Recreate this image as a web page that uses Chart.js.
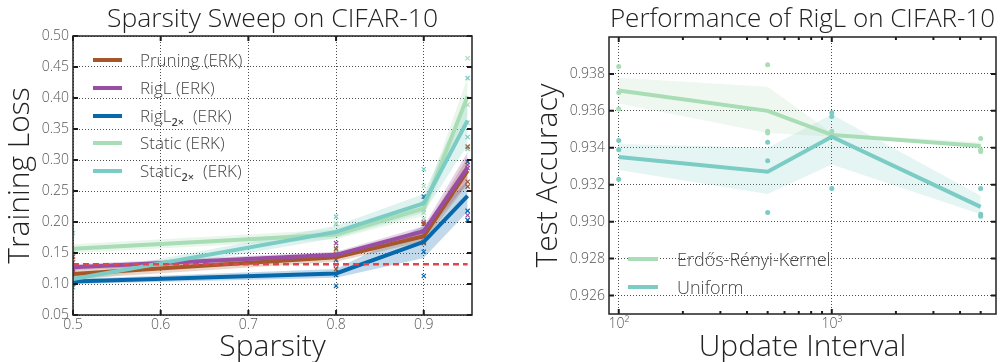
<!DOCTYPE html>
<html>
<head>
<meta charset="utf-8">
<script src="https://cdn.jsdelivr.net/npm/chart.js@4.4.1/dist/chart.umd.min.js"></script>
<style>
  body { margin: 0; background: #fff; width: 1000px; height: 362px; overflow: hidden; position: relative;
         font-family: "Open Sans", "DejaVu Sans", sans-serif; font-weight: 300; }
  .box { position: absolute; top: 0; width: 500px; height: 362px; }
  .lg { position: absolute; height: 28px; line-height: 28px; color: #444; white-space: nowrap; z-index: 2; }
  .lg i { position: absolute; left: 0; top: 12px; height: 4px; }
  .lg sub { font-size: 11px; font-weight: 600; vertical-align: -4px; line-height: 0; }
</style>
</head>
<body>
<div class="box" style="left:0"><canvas id="lossChart"></canvas></div>
<div class="box" style="left:500px"><canvas id="accChart"></canvas></div>

<!-- legenda a sinistra -->
<div class="lg" style="left:93px;top:46px;font-size:17px"><i style="width:29px;background:#a65628"></i><span style="margin-left:47px">Pruning (ERK)</span></div>
<div class="lg" style="left:93px;top:74px;font-size:17px"><i style="width:29px;background:#984ea3"></i><span style="margin-left:47px">RigL (ERK)</span></div>
<div class="lg" style="left:93px;top:102px;font-size:17px"><i style="width:29px;background:#0868ac"></i><span style="margin-left:47px">RigL<sub>2×</sub>&nbsp; (ERK)</span></div>
<div class="lg" style="left:93px;top:129px;font-size:17px"><i style="width:29px;background:#a8ddb5"></i><span style="margin-left:47px">Static (ERK)</span></div>
<div class="lg" style="left:93px;top:157px;font-size:17px"><i style="width:29px;background:#7bccc4"></i><span style="margin-left:47px">Static<sub>2×</sub>&nbsp; (ERK)</span></div>

<!-- legenda a destra -->
<div class="lg" style="left:628px;top:245px;font-size:18px"><i style="width:30px;background:#a8ddb5"></i><span style="margin-left:49px">Erdős-Rényi-Kernel</span></div>
<div class="lg" style="left:628px;top:273px;font-size:18px"><i style="width:30px;background:#7bccc4"></i><span style="margin-left:49px">Uniform</span></div>

<script>
const family = '"Open Sans", "DejaVu Sans", sans-serif';

// --- dati: sparsity sweep ---
const sparsity = [0.5, 0.8, 0.9, 0.95];
const sparsityTicks = [0.5, 0.6, 0.7, 0.8, 0.9];
const lossTicks = [0.05, 0.10, 0.15, 0.20, 0.25, 0.30, 0.35, 0.40, 0.45, 0.50];

const pruningMean = [0.116, 0.143, 0.177, 0.283];
const pruningStd  = [0.008, 0.007, 0.008, 0.022];
const pruningRuns = [[0.144, 0.104, 0.100], [0.124, 0.148, 0.157], [0.197, 0.168, 0.166], [0.3215, 0.265, 0.257]];

const rigLMean = [0.127, 0.147, 0.185, 0.288];
const rigLStd  = [0.005, 0.005, 0.008, 0.025];
const rigLRuns = [[0.135, 0.124, 0.122], [0.166, 0.131, 0.144], [0.200, 0.185, 0.176], [0.287, 0.211, 0.292]];

const rigL2xMean = [0.104, 0.117, 0.168, 0.242];
const rigL2xStd  = [0.004, 0.007, 0.026, 0.025];
const rigL2xRuns = [[0.100, 0.106, 0.104], [0.139, 0.1145, 0.097], [0.241, 0.152, 0.113], [0.297, 0.218, 0.203]];

const staticMean = [0.157, 0.180, 0.222, 0.403];
const staticStd  = [0.007, 0.008, 0.012, 0.030];
const staticRuns = [[0.182, 0.150, 0.145], [0.182, 0.155, 0.197], [0.258, 0.215, 0.205], [0.464, 0.389, 0.360]];

const static2xMean = [0.108, 0.184, 0.230, 0.364];
const static2xStd  = [0.006, 0.010, 0.015, 0.040];
const static2xRuns = [[0.095, 0.110, 0.115], [0.2086, 0.197, 0.150], [0.285, 0.230, 0.220], [0.432, 0.337, 0.318]];

const denseLoss = 0.132;
const denseRange = [0.5, 0.95];

// --- dati: update interval ---
const intervals = [100, 500, 1000, 5000];
const intervalTicks = [100, 200, 300, 400, 500, 600, 700, 800, 900, 1000, 2000, 3000, 4000, 5000];
const intervalMajor = [100, 1000];
const accTicks = [0.926, 0.928, 0.930, 0.932, 0.934, 0.936, 0.938];

const erkMean = [0.9371, 0.9360, 0.9347, 0.9341];
const erkLow  = [0.9364, 0.9348, 0.9346, 0.9340];
const erkHigh = [0.9378, 0.9373, 0.9348, 0.9343];
const erkRuns = [[0.9384, 0.9370, 0.9361], [0.9385, 0.9349, 0.9348], [0.9347, 0.9346, 0.9349], [0.9345, 0.9339, 0.9338]];

const uniMean = [0.9335, 0.9327, 0.9346, 0.9308];
const uniLow  = [0.9328, 0.9315, 0.9331, 0.9304];
const uniHigh = [0.9342, 0.9340, 0.9358, 0.9314];
const uniRuns = [[0.9344, 0.9339, 0.9323], [0.9343, 0.9333, 0.9305], [0.9359, 0.9357, 0.9318], [0.9318, 0.9304, 0.9303]];

function rgba(hex, a) {
    const n = parseInt(hex.slice(1), 16);
    return `rgba(${n >> 16},${(n >> 8) & 255},${n & 255},${a})`;
}

// cornice, tacche interne e titolo
const framePlugin = {
    id: 'frame',
    afterDraw(chart, args, o) {
        const { ctx, chartArea: a } = chart;
        const xs = chart.scales.x, ys = chart.scales.y;
        ctx.save();
        ctx.strokeStyle = '#1a1a1a';
        ctx.lineWidth = 2;
        ctx.beginPath();
        xs.ticks.forEach(t => {
            const p = xs.getPixelForValue(t.value);
            const len = t.major ? 5 : 3;
            ctx.moveTo(p, a.bottom); ctx.lineTo(p, a.bottom - len);
            ctx.moveTo(p, a.top); ctx.lineTo(p, a.top + len);
        });
        ys.ticks.forEach(t => {
            const p = ys.getPixelForValue(t.value);
            ctx.moveTo(a.left, p); ctx.lineTo(a.left + 5, p);
            ctx.moveTo(a.right, p); ctx.lineTo(a.right - 5, p);
        });
        ctx.stroke();
        ctx.lineWidth = 1.5;
        ctx.strokeStyle = '#222';
        ctx.strokeRect(a.left, a.top, a.width, a.height);
        ctx.fillStyle = '#222';
        ctx.font = `300 ${o.size}px ${family}`;
        ctx.textAlign = 'center';
        ctx.textBaseline = 'alphabetic';
        ctx.fillText(o.title, (a.left + a.right) / 2, o.y);
        ctx.restore();
    }
};

const gridColor = c => (c.tick && c.tick.major) ? 'rgba(0,0,0,0.7)' : 'rgba(0,0,0,0)';
const tickFont = { family, size: 14, weight: 300 };
const titleFont = { family, size: 30, weight: 300, lineHeight: 1 };

// ---- grafico sinistro ----
const leftSeries = [
    { color: '#a65628', mean: pruningMean, std: pruningStd, runs: pruningRuns },
    { color: '#984ea3', mean: rigLMean, std: rigLStd, runs: rigLRuns },
    { color: '#0868ac', mean: rigL2xMean, std: rigL2xStd, runs: rigL2xRuns },
    { color: '#a8ddb5', mean: staticMean, std: staticStd, runs: staticRuns },
    { color: '#7bccc4', mean: static2xMean, std: static2xStd, runs: static2xRuns }
];

const leftSets = [];
leftSeries.forEach((s, k) => {
    leftSets.push({ data: sparsity.map((x, i) => ({ x, y: s.mean[i] + s.std[i] })),
        borderWidth: 0, pointRadius: 0, fill: '+1', backgroundColor: rgba(s.color, 0.25), order: 20 });
    leftSets.push({ data: sparsity.map((x, i) => ({ x, y: s.mean[i] - s.std[i] })),
        borderWidth: 0, pointRadius: 0, fill: false, order: 20 });
    leftSets.push({ data: sparsity.map((x, i) => ({ x, y: s.mean[i] })),
        borderColor: s.color, borderWidth: 4, pointRadius: 0, fill: false, order: 10 - k });
    leftSets.push({ data: s.runs.flatMap((r, i) => r.map(y => ({ x: sparsity[i], y }))),
        showLine: false, pointStyle: 'crossRot', pointRadius: 3, borderWidth: 1.2,
        borderColor: s.color, order: 30 });
});
leftSets.push({ data: denseRange.map(x => ({ x, y: denseLoss })),
    borderColor: '#e0474c', borderWidth: 2.5, borderDash: [6, 4], pointRadius: 0, fill: false, order: 0 });

new Chart(document.getElementById('lossChart'), {
    type: 'line',
    data: { datasets: leftSets },
    plugins: [framePlugin],
    options: {
        responsive: true, maintainAspectRatio: false, animation: false,
        layout: { padding: { top: 36, right: 28, left: 0, bottom: 0 } },
        elements: { line: { tension: 0 } },
        plugins: { legend: { display: false }, tooltip: { enabled: false },
            frame: { title: 'Sparsity Sweep on CIFAR-10', size: 26.5, y: 27 } },
        scales: {
            x: {
                type: 'linear', min: 0.5, max: 0.955,
                afterBuildTicks: s => { s.ticks = sparsityTicks.map(v => ({ value: v, major: true })); },
                afterFit: s => { s.height = 47; },
                ticks: { callback: v => v.toFixed(1), font: tickFont, color: '#555', padding: 2, maxRotation: 0, autoSkip: false },
                grid: { color: gridColor, lineWidth: 1, drawTicks: false },
                border: { display: false, dash: [1, 2] },
                title: { display: true, text: 'Sparsity', font: titleFont, color: '#222', padding: { top: 0, bottom: 0 } }
            },
            y: {
                min: 0.05, max: 0.50,
                afterBuildTicks: s => { s.ticks = lossTicks.map(v => ({ value: v, major: true })); },
                afterFit: s => { s.width = 73; },
                ticks: { callback: v => v.toFixed(2), font: tickFont, color: '#555', padding: 4 },
                grid: { color: gridColor, lineWidth: 1, drawTicks: false },
                border: { display: false, dash: [1, 2] },
                title: { display: true, text: 'Training Loss', font: titleFont, color: '#222', padding: { top: 5, bottom: 0 } }
            }
        }
    }
});

// ---- grafico destro ----
const rightSeries = [
    { color: '#a8ddb5', mean: erkMean, low: erkLow, high: erkHigh, runs: erkRuns, alpha: 0.2 },
    { color: '#7bccc4', mean: uniMean, low: uniLow, high: uniHigh, runs: uniRuns, alpha: 0.2 }
];

const rightSets = [];
rightSeries.forEach((s, k) => {
    rightSets.push({ data: intervals.map((x, i) => ({ x, y: s.high[i] })),
        borderWidth: 0, pointRadius: 0, fill: '+1', backgroundColor: rgba(s.color, s.alpha), order: 20 });
    rightSets.push({ data: intervals.map((x, i) => ({ x, y: s.low[i] })),
        borderWidth: 0, pointRadius: 0, fill: false, order: 20 });
    rightSets.push({ data: intervals.map((x, i) => ({ x, y: s.mean[i] })),
        borderColor: s.color, borderWidth: 4, pointRadius: 0, fill: false, order: 10 - k });
    rightSets.push({ data: s.runs.flatMap((r, i) => r.map(y => ({ x: intervals[i], y }))),
        showLine: false, pointStyle: 'circle', pointRadius: 2.5, borderWidth: 0,
        backgroundColor: s.color, order: 30 });
});

new Chart(document.getElementById('accChart'), {
    type: 'line',
    data: { datasets: rightSets },
    plugins: [framePlugin],
    options: {
        responsive: true, maintainAspectRatio: false, animation: false,
        layout: { padding: { top: 37, right: 1, left: 0, bottom: 0 } },
        elements: { line: { tension: 0 } },
        plugins: { legend: { display: false }, tooltip: { enabled: false },
            frame: { title: 'Performance of RigL on CIFAR-10', size: 26, y: 27 } },
        scales: {
            x: {
                type: 'logarithmic', min: 90, max: 5900,
                afterBuildTicks: s => { s.ticks = intervalTicks.map(v => ({ value: v, major: intervalMajor.includes(v) })); },
                afterFit: s => { s.height = 48; },
                ticks: { callback: v => v === 100 ? '10²' : (v === 1000 ? '10³' : ''), font: tickFont, color: '#555',
                         padding: 2, maxRotation: 0, autoSkip: false },
                grid: { color: gridColor, lineWidth: 1, drawTicks: false },
                border: { display: false, dash: [1, 2] },
                title: { display: true, text: 'Update Interval', font: titleFont, color: '#222', padding: { top: 0, bottom: 0 } }
            },
            y: {
                min: 0.925, max: 0.940,
                afterBuildTicks: s => { s.ticks = accTicks.map(v => ({ value: v, major: true })); },
                afterFit: s => { s.width = 109; },
                ticks: { callback: v => v.toFixed(3), font: tickFont, color: '#555', padding: 4 },
                grid: { color: gridColor, lineWidth: 1, drawTicks: false },
                border: { display: false, dash: [1, 2] },
                title: { display: true, text: 'Test Accuracy', font: titleFont, color: '#222', padding: { top: 33, bottom: 0 } }
            }
        }
    }
});
</script>
</body>
</html>
